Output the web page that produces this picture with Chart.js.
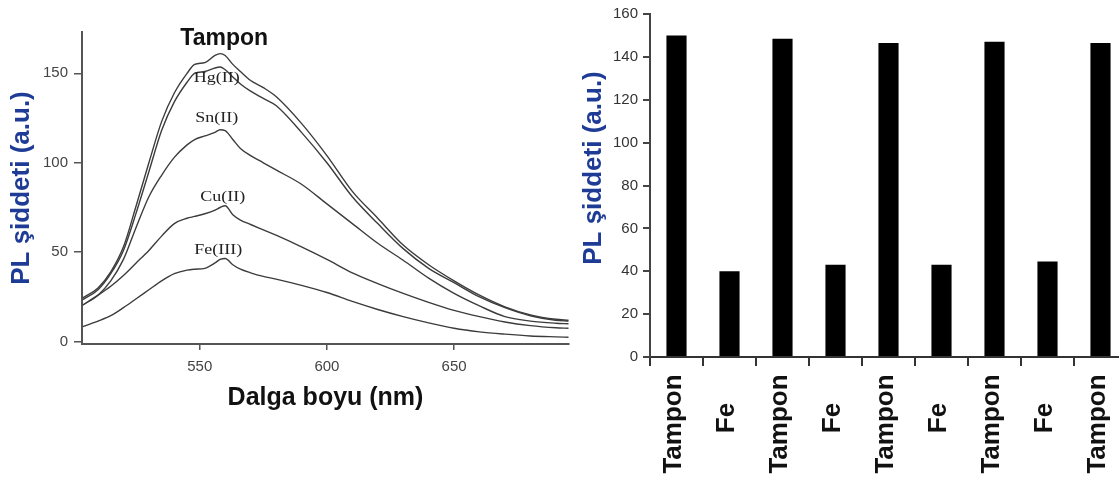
<!DOCTYPE html>
<html>
<head>
<meta charset="utf-8">
<script src="https://cdn.jsdelivr.net/npm/chart.js@4.4.1/dist/chart.umd.min.js"></script>
<style>
  html, body { margin: 0; padding: 0; background: #fff; overflow: hidden; }
  body { width: 1119px; height: 485px; position: relative; }
  #spectra { position: absolute; left: 0; top: 0; }
  #bars { position: absolute; left: 575px; top: 0; }
</style>
</head>
<body>
<canvas id="spectra" width="575" height="485"></canvas>
<canvas id="bars" width="560" height="485"></canvas>
<script>
// left panel: emission spectra
const wavelengths = [504,510,515,520,525,530,535,540,545,548,552,556,558,560,563,566,570,575,580,590,600,610,620,630,640,650,660,670,680,690,695];
const tampon = [24.5,30,39,53,76,100,123,139,150,155,156,160,161,160,155,151,146,142,137,122,104,84,69,54,43,34,26,19.5,15,12.5,12];
const hg     = [23.5,29,38,51,72,95,118,134,145,150,151,153,153.5,152,148,144,140,136,132,117,100,81,66,52,41,33,25,19,14.5,12,11.5];
const sn     = [20.5,26,34,46,64,81,93,103,110,113,115,117,118.5,118,113,108,104,100,96,88,77,66,55,45.5,35.5,27,20,14,11.5,10.3,10];
const cu     = [20.5,26,31,37,44,51,59,66,69,70,71.5,73.5,75,76,71,68,65.5,62.5,59.5,53,46,38.5,32.5,27,22,17.5,14,11,9,7.8,7.5];
const fe     = [8.4,11.5,14.5,19,24,29,34,38,40,40.5,41,44,46,46.5,43,40.5,38.5,36.5,35,31.5,27.5,22.5,18,14,10.5,7.5,5.5,4.2,3.2,2.7,2.5];
const spectraTicksX = [550, 600, 650];
const spectraTicksY = [0, 50, 100, 150];

// right panel: bars
const barLabels = ['Tampon','Fe','Tampon','Fe','Tampon','Fe','Tampon','Fe','Tampon'];
const barValues = [150, 40, 148.5, 43, 146.5, 43, 147, 44.5, 146.5];

const sans = '"Liberation Sans", Arial, sans-serif';
const serif = '"Liberation Serif", "Times New Roman", serif';
const titleBlue = '#1e3c96';

function pts(ys) {
  return wavelengths.map((w, i) => ({ x: w, y: ys[i] }));
}

// curve names drawn next to the peaks (in data units)
const notes = [
  { text: 'Tampon', x: 559.6, y: 169.5, bold: true },
  { text: 'Hg(II)', x: 556.7, y: 147.2 },
  { text: 'Sn(II)', x: 556.7, y: 124.9 },
  { text: 'Cu(II)', x: 559, y: 81 },
  { text: 'Fe(III)', x: 557.3, y: 51.3 }
];

const curveNotes = {
  id: 'curveNotes',
  afterDraw(chart) {
    const { ctx, scales: { x, y } } = chart;
    ctx.save();
    ctx.textAlign = 'center';
    ctx.textBaseline = 'middle';
    notes.forEach(n => {
      const px = x.getPixelForValue(n.x);
      const py = y.getPixelForValue(n.y);
      ctx.save();
      ctx.translate(px, py);
      if (n.bold) {
        ctx.fillStyle = '#111';
        ctx.font = 'bold 23px ' + sans;
      } else {
        ctx.fillStyle = '#222';
        ctx.font = '15px ' + serif;
        ctx.scale(1.2, 1);
      }
      ctx.fillText(n.text, 0, 0);
      ctx.restore();
    });
    ctx.restore();
  }
};

const lineSet = (label, ys) => ({
  label: label,
  data: pts(ys),
  borderColor: '#3c3c3c',
  borderWidth: 1.4,
  pointRadius: 0,
  cubicInterpolationMode: 'monotone',
  fill: false
});

new Chart(document.getElementById('spectra').getContext('2d'), {
  type: 'line',
  data: {
    datasets: [
      lineSet('Tampon', tampon),
      lineSet('Hg(II)', hg),
      lineSet('Sn(II)', sn),
      lineSet('Cu(II)', cu),
      lineSet('Fe(III)', fe)
    ]
  },
  options: {
    responsive: false,
    animation: false,
    layout: { padding: { left: 0, top: 32, right: 6, bottom: 69 } },
    plugins: { legend: { display: false }, tooltip: { enabled: false } },
    scales: {
      x: {
        type: 'linear',
        min: 503.7,
        max: 695.2,
        afterBuildTicks: s => { s.ticks = spectraTicksX.map(v => ({ value: v })); },
        afterFit: s => { s.height = 72; },
        grid: { drawOnChartArea: false, drawTicks: true, tickLength: 6, color: '#555', lineWidth: 1.5 },
        border: { color: '#555', width: 2 },
        ticks: { color: '#444', font: { family: sans, size: 15 }, padding: 8, maxRotation: 0 },
        title: {
          display: true, text: 'Dalga boyu (nm)', color: '#111',
          font: { family: sans, size: 25, weight: 'bold' }, padding: { top: 0, bottom: 3 }
        }
      },
      y: {
        min: -1.3,
        max: 173.1,
        afterBuildTicks: s => { s.ticks = spectraTicksY.map(v => ({ value: v })); },
        afterFit: s => { s.width = 82; },
        grid: { drawOnChartArea: false, drawTicks: true, tickLength: 8, color: '#555', lineWidth: 1.5 },
        border: { color: '#555', width: 2 },
        ticks: { color: '#444', font: { family: sans, size: 15 }, padding: 6 },
        title: {
          display: true, text: 'PL şiddeti (a.u.)', color: titleBlue,
          font: { family: sans, size: 26, weight: 'bold' }, padding: { top: 6, bottom: 0 }
        }
      }
    }
  },
  plugins: [curveNotes]
});

// rotated category names and the axis title of the bar panel
const barText = {
  id: 'barText',
  afterDraw(chart) {
    const { ctx, scales: { x } } = chart;
    ctx.save();
    ctx.textAlign = 'center';
    ctx.textBaseline = 'middle';
    ctx.font = 'bold 26px ' + sans;
    ctx.fillStyle = '#111';
    barLabels.forEach((lab, i) => {
      ctx.save();
      ctx.translate(x.getPixelForValue(i) - 3, lab === 'Fe' ? 418 : 424);
      ctx.rotate(-Math.PI / 2);
      ctx.fillText(lab, 0, 0);
      ctx.restore();
    });
    ctx.fillStyle = titleBlue;
    ctx.translate(19, 168);
    ctx.rotate(-Math.PI / 2);
    ctx.fillText('PL şiddeti (a.u.)', 0, 0);
    ctx.restore();
  }
};

new Chart(document.getElementById('bars').getContext('2d'), {
  type: 'bar',
  data: {
    labels: barLabels,
    datasets: [{
      data: barValues,
      backgroundColor: '#000',
      borderWidth: 0,
      categoryPercentage: 1,
      barPercentage: 0.38
    }]
  },
  options: {
    responsive: false,
    animation: false,
    layout: { padding: { left: 0, top: 14, right: 8, bottom: 0 } },
    plugins: { legend: { display: false }, tooltip: { enabled: false } },
    scales: {
      x: {
        afterFit: s => { s.height = 128; },
        grid: { drawOnChartArea: false, drawTicks: true, tickLength: 9, color: '#333', lineWidth: 2, offset: true },
        border: { color: '#333', width: 2 },
        ticks: { display: false }
      },
      y: {
        min: 0,
        max: 160,
        afterFit: s => { s.width = 75; },
        grid: { drawOnChartArea: false, drawTicks: true, tickLength: 7, color: '#444', lineWidth: 2 },
        border: { color: '#444', width: 2 },
        ticks: { stepSize: 20, color: '#333', font: { family: sans, size: 15 }, padding: 5 }
      }
    }
  },
  plugins: [barText]
});
</script>
</body>
</html>
